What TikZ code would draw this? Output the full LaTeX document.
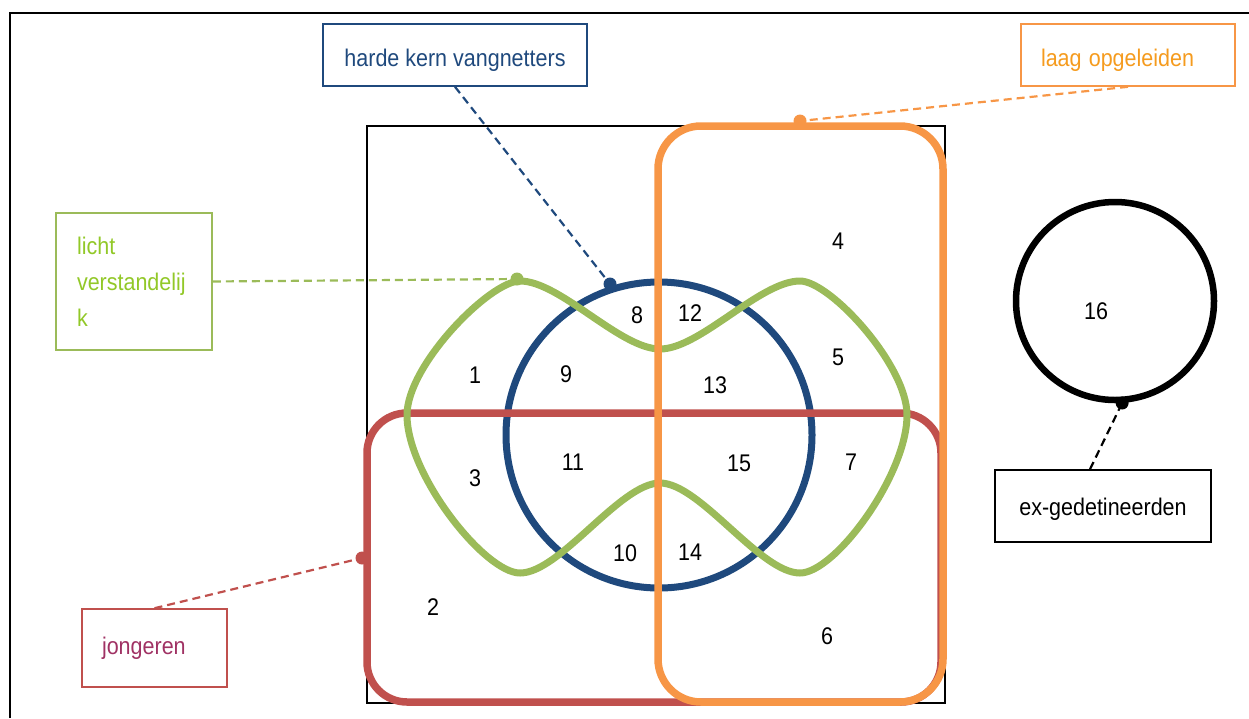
\documentclass[tikz,border=0pt]{standalone}
\usepackage{fontspec}
\setmainfont{Liberation Sans}
\definecolor{cblue}{RGB}{31,73,125}
\definecolor{cred}{RGB}{192,80,77}
\definecolor{cgreen}{RGB}{155,187,89}
\definecolor{corange}{RGB}{247,150,70}
\definecolor{ctorange}{RGB}{245,155,30}
\definecolor{clime}{RGB}{146,200,40}
\definecolor{cjong}{RGB}{160,50,100}
\newcommand{\vstr}[1]{\scalebox{1}[1.12]{#1}}
\newcommand{\lowr}[2]{\raisebox{-#1}[17pt][5pt]{\vstr{#2}}}
\begin{document}
\begin{tikzpicture}[x=1pt,y=-1pt,
  every node/.style={font=\fontsize{21.5}{26}\selectfont},
  num/.style={inner sep=0pt},
  lbox/.style={draw, line width=1.6pt, inner sep=0pt},
  dotn/.style={circle, inner sep=0pt, minimum size=13pt},
  conn/.style={line width=2.2pt, dash pattern=on 8pt off 5pt},
]
\useasboundingbox (0,0) rectangle (1249,718);
% outer frame
\draw[line width=2pt] (10,718) -- (10,13) -- (1249,13);
% inner square
\draw[line width=1.3pt] (367,126) rectangle (945,703);
% blue circle
\draw[cblue, line width=7pt] (659,435) circle[radius=153pt];
% red rounded rectangle
\draw[cred, line width=7.5pt, rounded corners=40pt] (367,413) rectangle (941,702);
% green curve
\draw[cgreen, line width=7pt, line join=round]
  (520,281) .. controls (560,281) and (620,349) .. (660,349)
            .. controls (700,349) and (760,281) .. (800,281)
            .. controls (830,281) and (907,365) .. (907,415)
            .. controls (907,475) and (835,573) .. (800,573)
            .. controls (760,573) and (700,483) .. (660,483)
            .. controls (620,483) and (560,573) .. (520,573)
            .. controls (485,573) and (407,475) .. (407,415)
            .. controls (407,365) and (490,281) .. (520,281) -- cycle;
% orange rounded rectangle
\draw[corange, line width=7.5pt, rounded corners=43pt] (658,126) rectangle (943,702);
% black circle
\node[circle, draw, line width=6.5pt, minimum size=198pt, inner sep=0pt] (c16) at (1115,301) {};

% numbers
\node[num] (n1) at (475,375) {\vstr{1}};
\node[num] (n2) at (433,607) {\vstr{2}};
\node[num] (n3) at (475,478) {\vstr{3}};
\node[num] (n4) at (838,241) {\vstr{4}};
\node[num] (n5) at (838,357) {\vstr{5}};
\node[num] (n6) at (827,636) {\vstr{6}};
\node[num] (n7) at (851,462) {\vstr{7}};
\node[num] (n8) at (637,315) {\vstr{8}};
\node[num] (n9) at (566,374) {\vstr{9}};
\node[num] (n10) at (625,553) {\vstr{10}};
\node[num] (n11) at (573,462) {\vstr{11}};
\node[num] (n12) at (690,313) {\vstr{12}};
\node[num] (n13) at (715,385) {\vstr{13}};
\node[num] (n14) at (690,552) {\vstr{14}};
\node[num] (n15) at (739,463) {\vstr{15}};
\node[num] (n16) at (1096,311) {\vstr{16}};

% label boxes
\node[lbox, draw=cblue, text=cblue, minimum width=264pt, minimum height=62pt] (hk) at (455,55) {\lowr{5pt}{harde kern vangnetters}};
\node[lbox, draw=corange, text=ctorange, minimum width=214pt, minimum height=62pt, text width=174pt, inner xsep=20pt, align=left] (lo) at (1128,55) {\lowr{5pt}{laag opgeleiden}};
\node[lbox, draw=cgreen, text=clime, minimum width=156pt, minimum height=137pt, text width=114pt, inner xsep=21pt, align=left, font=\fontsize{21.5}{36}\selectfont] (lv) at (134,281.5) {\vstr{licht}\\\vstr{verstandelij}\\\vstr{k}};
\node[lbox, draw=cred, text=cjong, minimum width=145pt, minimum height=78pt, text width=105pt, inner xsep=20pt, align=left] (jo) at (154.5,648) {\vstr{jongeren}};
\node[lbox, draw=black, minimum width=216pt, minimum height=72pt] (ex) at (1103,506) {\lowr{3pt}{ex-gedetineerden}};

% dots
\coordinate (dB) at (610,284);
\coordinate (dO) at (800,121);
\coordinate (dG) at (517,279);
\coordinate (dR) at (362,558);
\coordinate (dK) at (c16.-86);

% connectors
\draw[conn, cblue] (hk.south) -- (dB);
\draw[conn, corange] (lo.south) -- (dO);
\draw[conn, cgreen] (lv.east) -- (dG);
\draw[conn, cred] (jo.north) -- (dR);
\draw[conn] ([xshift=-13pt]ex.north) -- (dK);

\node[dotn, fill=cblue] (pB) at (dB) {};
\node[dotn, fill=corange] (pO) at (dO) {};
\node[dotn, fill=cgreen] (pG) at (dG) {};
\node[dotn, fill=cred] (pR) at (dR) {};
\node[dotn, fill=black] (pK) at (dK) {};
\end{tikzpicture}
\end{document}
